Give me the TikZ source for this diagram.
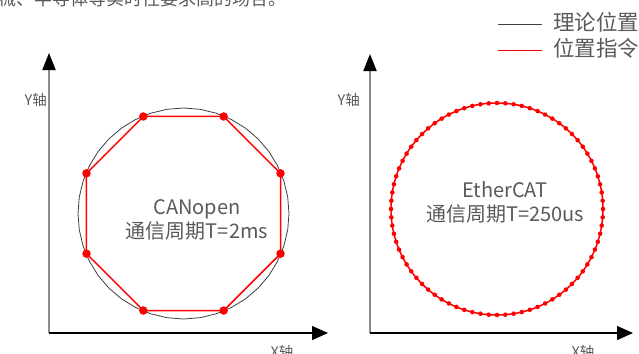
\documentclass[tikz,border=0pt]{standalone}
\usepackage{fontspec}
\setmainfont{Noto Sans CJK SC}
\usetikzlibrary{arrows.meta}
\definecolor{txt}{HTML}{595959}
\definecolor{axg}{HTML}{8C8C8C}
\definecolor{theo}{HTML}{404040}
\definecolor{cmd}{HTML}{FF0000}
\begin{document}
\begin{tikzpicture}[x=1pt,y=-1pt,
  lbl/.style={text=txt,font=\fontsize{20}{24}\selectfont,align=center,inner sep=0pt},
  leglbl/.style={text=txt,font=\fontsize{21.5}{24}\selectfont,inner sep=0pt},
  axlbl/.style={text=txt,font=\fontsize{14.5}{16}\selectfont,inner sep=0pt},
  yaxis/.style={draw=axg,line width=2pt,-{Triangle[length=17pt,width=13pt,color=black]}},
  xaxis/.style={draw=black,line width=1.4pt,-{Triangle[length=16pt,width=14pt,color=black]}},
  theoline/.style={draw=theo,line width=0.8pt},
  cmdline/.style={draw=cmd,line width=1.5pt},
  bigdot/.style={circle,fill=cmd,draw=none,minimum size=8.5pt,inner sep=0pt},
  smalldot/.style={circle,fill=cmd,draw=none,minimum size=4.6pt,inner sep=0pt}]
\useasboundingbox (0,0) rectangle (639,353);

% cut-off line of text at the top
\node[anchor=base west,text=txt,font=\fontsize{18}{18}\selectfont,inner sep=0pt] (toptext) at (-2,6) {械、半导体等实时性要求高的场合。};

% legend
\coordinate (lg1a) at (498,25); \coordinate (lg1b) at (542,25);
\coordinate (lg2a) at (498,51); \coordinate (lg2b) at (542,51);
\draw[draw=theo,line width=1pt] (lg1a) -- (lg1b);
\draw[draw=cmd,line width=1pt] (lg2a) -- (lg2b);
\node[leglbl,anchor=west] (lgt1) at (553,22) {理论位置};
\node[leglbl,anchor=west] (lgt2) at (553,48) {位置指令};

% ---------- left diagram ----------
\coordinate (O1) at (49,333);
\coordinate (Y1) at (49,53);
\coordinate (X1) at (328,333);
\coordinate (C1) at (183.5,213.5);
\draw[yaxis] (O1) -- (Y1);
\draw[xaxis] (O1) -- (X1);
\node[axlbl,anchor=east] (yl1) at (47,100) {Y轴};
\node[axlbl] (xl1) at (282,352) {X轴};

\draw[theoline] plot[samples=41,domain=0:360] ({183.5+105.5*cos(\x)},{213.5+105.5*sin(\x)}) -- cycle;
\foreach \i in {1,...,8}
  \coordinate (pc\i) at ([shift={(22.5+45*\i:105)}]C1);
\draw[cmdline] (pc1) \foreach \i in {2,...,8}{ -- (pc\i)} -- cycle;
\foreach \i in {1,...,8}
  \node[bigdot] (p\i) at (pc\i) {};
\node[lbl] (t1) at (197,220) {CANopen\\通信周期T=2ms};

% ---------- right diagram ----------
\coordinate (O2) at (370,333);
\coordinate (Y2) at (370,54);
\coordinate (X2) at (633,333);
\coordinate (C2) at (497,209);
\draw[yaxis] (O2) -- (Y2);
\draw[xaxis] (O2) -- (X2);
\node[axlbl,anchor=east] (yl2) at (360,100) {Y轴};
\node[axlbl] (xl2) at (583,352) {X轴};

\draw[cmdline] (C2) circle (106);
\foreach \i in {1,...,80}
  \node[smalldot] (q\i) at ([shift={(4.5*\i:106)}]C2) {};
\node[lbl] (t2) at (505,202) {EtherCAT\\通信周期T=250us};
\end{tikzpicture}
\end{document}
